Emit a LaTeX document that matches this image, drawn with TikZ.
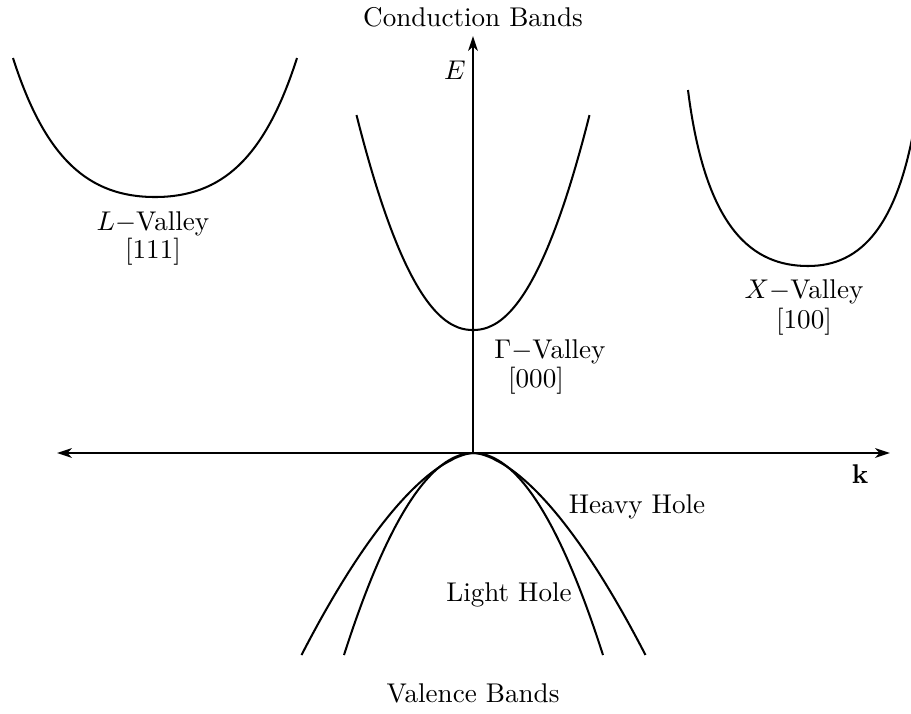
\documentclass[tikz,border=0pt]{standalone}
\usetikzlibrary{arrows.meta}
\begin{document}
\begin{tikzpicture}[x=0.369pt,y=-0.369pt,
  curve/.style={line width=0.75pt},
  tip/.tip={Stealth[length=5.5pt,width=3.6pt,inset=1.6pt]},
  axis/.style={line width=0.75pt},
  lbl/.style={inner sep=0pt,anchor=center}]
\useasboundingbox (0,0) rectangle (911,713);
% axes
\coordinate (O) at (473,453);
\coordinate (Etop) at (473,36);
\coordinate (Kleft) at (57,453);
\coordinate (Kright) at (890,453);
\draw[axis,-tip] (O) -- (Etop);
\draw[axis,tip-tip] (Kleft) -- (Kright);
% L valley
\coordinate (Lv0) at (155,197);
\draw[curve] (13,58) .. controls (45,158) and (88,197) .. (Lv0)
                     .. controls (222,197) and (265,158) .. (297,58);
% Gamma valley
\draw[curve] plot[domain=-116.5:116.5,samples=90,smooth] ({473+\x},{330-215*(abs(\x)/116.5)^2.15});
% X valley
\begin{scope}
\clip (0,0) rectangle (911,713);
\coordinate (Xv0) at (808,266);
\draw[curve] (688,90) .. controls (705.5,230) and (753,266) .. (Xv0)
                      .. controls (859,266) and (903.3,230) .. (919.6,90);
\end{scope}
% valence bands
\draw[curve] plot[domain=-172:172,samples=100,smooth] ({473.5+\x},{453+202*(abs(\x)/172)^1.65});
\draw[curve] plot[domain=-129.5:129.5,samples=80,smooth] ({473.5+\x},{453+202*(\x/129.5)^2});
% labels
\node[lbl] (cb) at (473,17) {Conduction Bands};
\node[lbl] (vb) at (473,693) {Valence Bands};
\node[lbl] (E) at (455,70) {$E$};
\node[lbl] (k) at (860,474) {$\mathbf{k}$};
\node[lbl] (Lv) at (153,224) {$L-$Valley};
\node[lbl] (Ln) at (153,252) {[111]};
\node[lbl] (Gv) at (550,352) {$\Gamma-$Valley};
\node[lbl] (Gn) at (536,381) {[000]};
\node[lbl] (Xv) at (804,292) {$X-$Valley};
\node[lbl] (Xn) at (804,322) {[100]};
\node[lbl] (hh) at (637,507) {Heavy Hole};
\node[lbl] (lh) at (509,595) {Light Hole};
\end{tikzpicture}
\end{document}
